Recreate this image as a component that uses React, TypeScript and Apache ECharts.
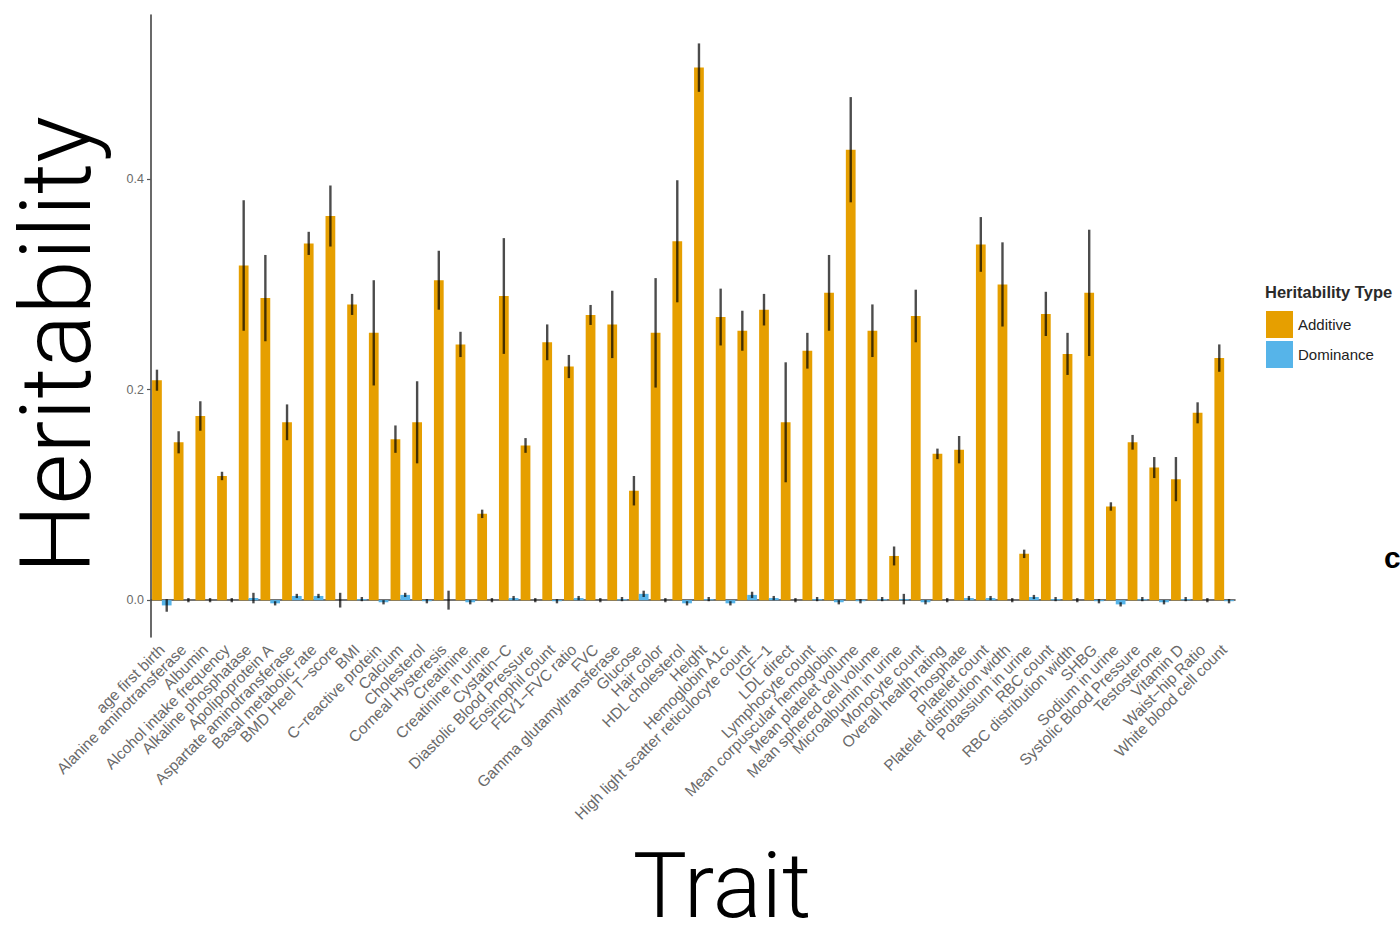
import React, { useEffect, useRef } from "react";
import * as echarts from "echarts";

const traits = [
  "age first birth", "Alanine aminotransferase", "Albumin", "Alcohol intake frequency",
  "Alkaline phosphatase", "Apolipoprotein A", "Aspartate aminotransferase", "Basal metabolic rate",
  "BMD Heel T\u2212score", "BMI", "C\u2212reactive protein", "Calcium", "Cholesterol",
  "Corneal Hysteresis", "Creatinine", "Creatinine in urine", "Cystatin\u2212C",
  "Diastolic Blood Pressure", "Eosinophil count", "FEV1\u2212FVC ratio", "FVC",
  "Gamma glutamyltransferase", "Glucose", "Hair color", "HDL cholesterol", "Height",
  "Hemoglobin A1c", "High light scatter reticulocyte count", "IGF\u22121", "LDL direct",
  "Lymphocyte count", "Mean corpuscular hemoglobin", "Mean platelet volume",
  "Mean sphered cell volume", "Microalbumin in urine", "Monocyte count",
  "Overall health rating", "Phosphate", "Platelet count", "Platelet distribution width",
  "Potassium in urine", "RBC count", "RBC distribution width", "SHBG", "Sodium in urine",
  "Systolic Blood Pressure", "Testosterone", "Vitamin D", "Waist\u2212hip Ratio",
  "White blood cell count",
];

const additive = [
  0.209, 0.150, 0.175, 0.118, 0.318, 0.287, 0.169, 0.339, 0.365, 0.281,
  0.254, 0.153, 0.169, 0.304, 0.243, 0.082, 0.289, 0.147, 0.245, 0.222,
  0.271, 0.262, 0.104, 0.254, 0.341, 0.506, 0.269, 0.256, 0.276, 0.169,
  0.237, 0.292, 0.428, 0.256, 0.042, 0.270, 0.139, 0.143, 0.338, 0.300,
  0.044, 0.272, 0.234, 0.292, 0.089, 0.150, 0.126, 0.115, 0.178, 0.230,
];

const additiveSE = [
  0.010, 0.0105, 0.014, 0.004, 0.062, 0.041, 0.017, 0.011, 0.029, 0.010,
  0.050, 0.013, 0.039, 0.028, 0.012, 0.004, 0.055, 0.007, 0.017, 0.011,
  0.0095, 0.032, 0.014, 0.052, 0.058, 0.023, 0.027, 0.019, 0.015, 0.057,
  0.017, 0.036, 0.050, 0.025, 0.009, 0.025, 0.005, 0.013, 0.026, 0.040,
  0.004, 0.021, 0.020, 0.060, 0.004, 0.007, 0.010, 0.021, 0.010, 0.013,
];

const dominance = [
  -0.005, 0.000, 0.000, 0.000, 0.002, -0.003, 0.004, 0.004, 0.000, 0.001,
  -0.002, 0.005, -0.001, 0.000, -0.002, 0.000, 0.002, 0.000, -0.001, 0.002,
  0.000, 0.001, 0.006, 0.000, -0.003, 0.001, -0.003, 0.005, 0.002, 0.000,
  0.001, -0.002, -0.001, 0.001, 0.001, -0.002, 0.000, 0.002, 0.002, 0.000,
  0.003, 0.001, 0.000, -0.001, -0.004, 0.001, -0.002, 0.001, 0.000, -0.001,
];

const dominanceSE = [
  0.006, 0.002, 0.002, 0.002, 0.005, 0.002, 0.002, 0.002, 0.007, 0.002,
  0.002, 0.002, 0.002, 0.009, 0.002, 0.002, 0.002, 0.002, 0.002, 0.002,
  0.002, 0.002, 0.003, 0.002, 0.002, 0.002, 0.002, 0.003, 0.002, 0.002,
  0.002, 0.002, 0.002, 0.002, 0.005, 0.002, 0.002, 0.002, 0.002, 0.002,
  0.002, 0.002, 0.002, 0.002, 0.002, 0.002, 0.002, 0.002, 0.002, 0.002,
];

const yTicks = [0, 0.2, 0.4];
const seriesNames = ["Additive", "Dominance"];
const colors = ["#E69F00", "#56B4E9"];

function errRender(offsetSign: number) {
  return (params: any, api: any) => {
    const idx = api.value(0);
    const lo = api.coord([idx, api.value(1)]);
    const hi = api.coord([idx, api.value(2)]);
    const bw = api.size([1, 0])[0];
    const x = lo[0] + offsetSign * bw * 0.225;
    return {
      type: "line",
      shape: { x1: x, y1: lo[1], x2: x, y2: hi[1] },
      style: { stroke: "rgba(0,0,0,0.7)", lineWidth: 2.4 },
    };
  };
}

export default function App() {
  const ref = useRef<HTMLDivElement>(null);
  useEffect(() => {
    if (!ref.current) return;
    const chart = echarts.init(ref.current, undefined, { renderer: "svg" });
    const errA = additive.map((v, i) => [i, v - additiveSE[i], v + additiveSE[i]]);
    const errD = dominance.map((v, i) => [i, v - dominanceSE[i], v + dominanceSE[i]]);
    chart.setOption({
      animation: false,
      backgroundColor: "#ffffff",
      grid: { left: 151, right: 165, top: 15, bottom: 288, containLabel: false },
      xAxis: {
        type: "category",
        data: traits,
        axisLine: { lineStyle: { color: "#444", width: 1.6 } },
        axisTick: { alignWithLabel: true, length: 4, lineStyle: { color: "#555", width: 1.2 } },
        axisLabel: {
          rotate: 45,
          interval: 0,
          margin: 10,
          fontSize: 15.5,
          color: "#6a6a6a",
          fontFamily: "Liberation Sans, Arial, sans-serif",
        },
      },
      yAxis: {
        type: "value",
        min: -0.035,
        max: 0.556,
        splitLine: { show: false },
        axisLine: { show: true, lineStyle: { color: "#444", width: 1.6 } },
        axisTick: { show: true, length: 4, customValues: yTicks, lineStyle: { color: "#555", width: 1.2 } },
        axisLabel: {
          customValues: yTicks,
          formatter: (v: number) => v.toFixed(1),
          margin: 7,
          fontSize: 12.5,
          color: "#6a6a6a",
          fontFamily: "Liberation Sans, Arial, sans-serif",
        },
      },
      legend: {
        data: seriesNames,
        orient: "vertical",
        left: 1266,
        top: 311,
        padding: 0,
        itemWidth: 27,
        itemHeight: 27,
        itemGap: 3,
        icon: "rect",
        textStyle: { fontSize: 15, color: "#222", fontFamily: "Liberation Sans, Arial, sans-serif" },
        selectedMode: false,
      },
      series: [
        {
          name: seriesNames[0],
          type: "bar",
          data: additive,
          barWidth: "45%",
          barGap: "0%",
          itemStyle: { color: colors[0] },
        },
        {
          name: seriesNames[1],
          type: "bar",
          data: dominance,
          barWidth: "45%",
          barGap: "0%",
          itemStyle: { color: colors[1] },
        },
        {
          name: "errA",
          type: "custom",
          data: errA,
          encode: { x: 0, y: [1, 2] },
          renderItem: errRender(-1),
          z: 5,
        },
        {
          name: "errD",
          type: "custom",
          data: errD,
          encode: { x: 0, y: [1, 2] },
          renderItem: errRender(1),
          z: 5,
        },
      ],
      graphic: [
        {
          type: "text",
          x: 56,
          y: 345,
          rotation: Math.PI / 2,
          style: {
            text: "Heritability",
            fontSize: 98,
            fontWeight: 300,
            fontFamily: "Roboto, Lato, sans-serif",
            fill: "#000",
            textAlign: "center",
            textVerticalAlign: "middle",
          },
        },
        {
          type: "text",
          x: 722,
          y: 886,
          style: {
            text: "Trait",
            fontSize: 91,
            lineHeight: 76,
            fontWeight: 300,
            fontFamily: "Roboto, Lato, sans-serif",
            fill: "#000",
            textAlign: "center",
            textVerticalAlign: "middle",
          },
        },
        {
          type: "text",
          x: 1265,
          y: 292,
          style: {
            text: "Heritability Type",
            fontSize: 16.5,
            fontWeight: "bold",
            fontFamily: "Liberation Sans, Arial, sans-serif",
            fill: "#2a2a2a",
            textAlign: "left",
            textVerticalAlign: "middle",
          },
        },
        {
          type: "text",
          x: 1384,
          y: 557,
          style: {
            text: "c",
            fontSize: 30,
            fontWeight: "bold",
            fontFamily: "Liberation Sans, Arial, sans-serif",
            fill: "#000",
            textAlign: "left",
            textVerticalAlign: "middle",
          },
        },
      ],
    });
    return () => chart.dispose();
  }, []);
  return <div ref={ref} style={{ width: 1400, height: 925, position: "absolute", left: 0, top: 0 }} />;
}
